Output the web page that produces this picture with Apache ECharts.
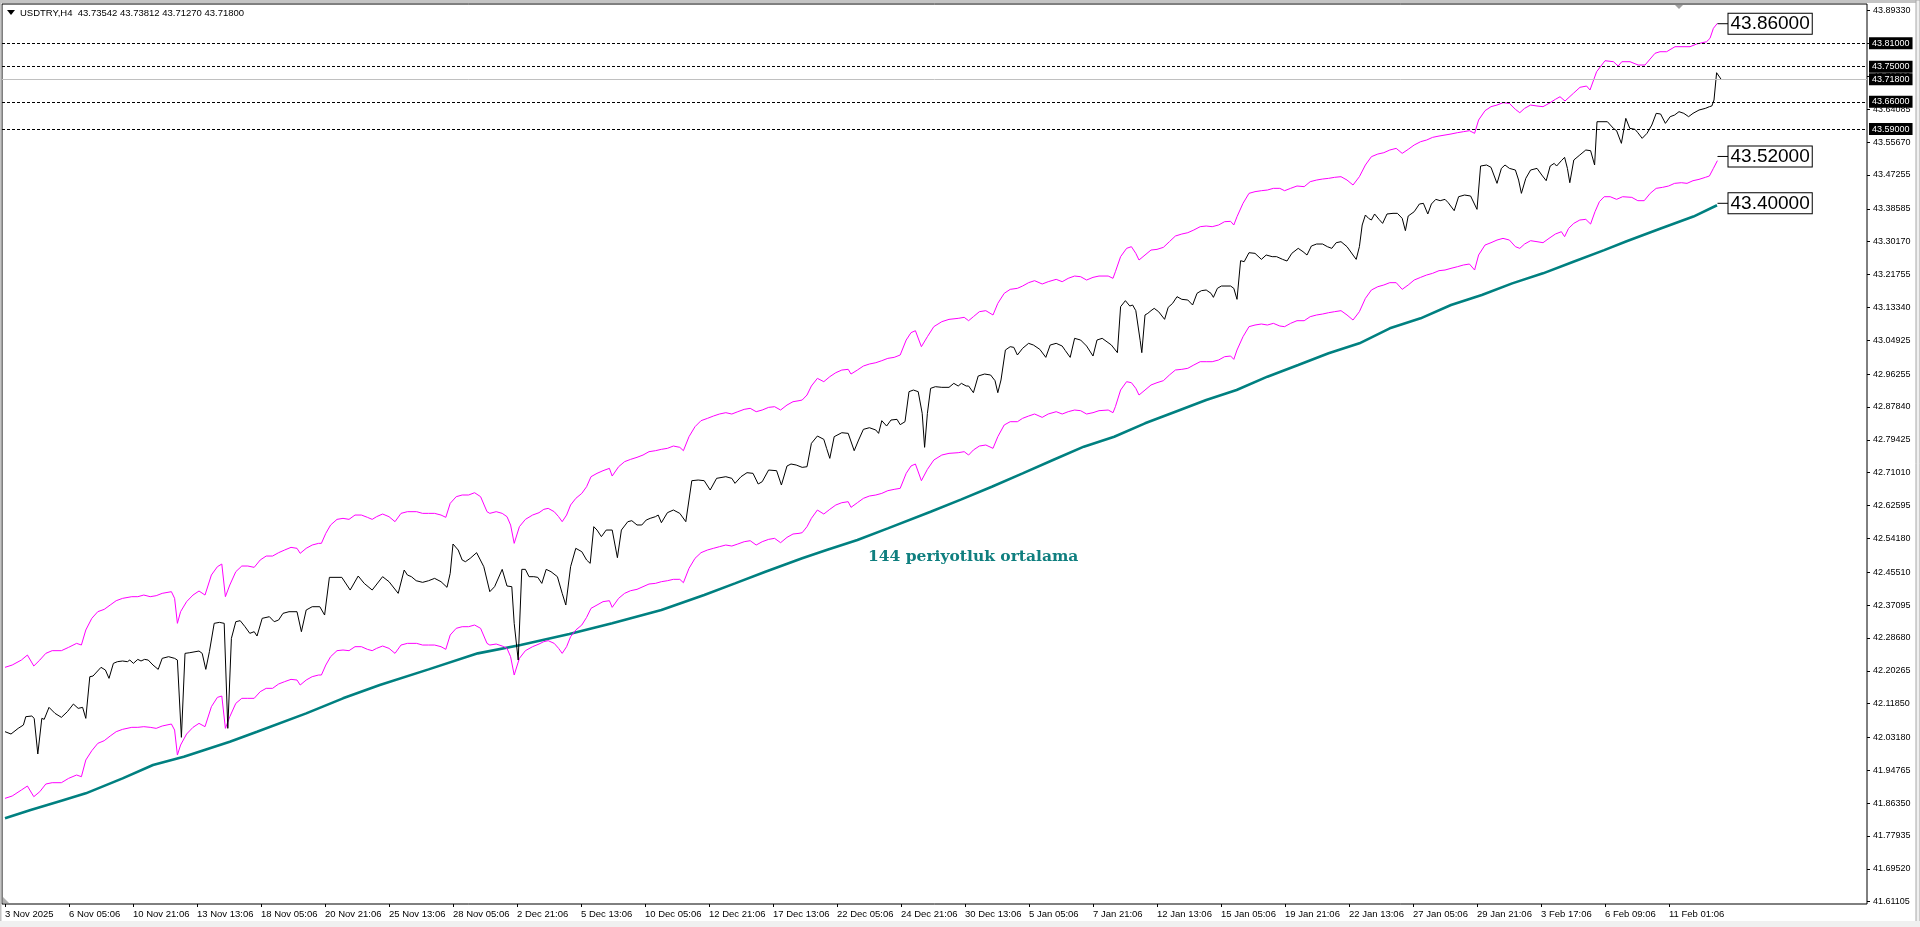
<!DOCTYPE html>
<html><head><meta charset="utf-8">
<script src="https://cdn.jsdelivr.net/npm/echarts@6/dist/echarts.min.js"></script>
<style>html,body{margin:0;padding:0;background:#fff;overflow:hidden}#c{width:1920px;height:927px}</style>
</head><body><div id="c"></div>
<script>
// ---------------- data ----------------
const symbolName = 'USDTRY,H4';
const ohlc = ['43.73542', '43.73812', '43.71270', '43.71800'];

const xTickBars = [0,16,32,48,64,80,96,112,128,144,160,176,192,208,224,240,256,272,288,304,320,336,352,368,384,400,416];
const xTickLabels = ['3 Nov 2025','6 Nov 05:06','10 Nov 21:06','13 Nov 13:06','18 Nov 05:06','20 Nov 21:06','25 Nov 13:06','28 Nov 05:06','2 Dec 21:06','5 Dec 13:06','10 Dec 05:06','12 Dec 21:06','17 Dec 13:06','22 Dec 05:06','24 Dec 21:06','30 Dec 13:06','5 Jan 05:06','7 Jan 21:06','12 Jan 13:06','15 Jan 05:06','19 Jan 21:06','22 Jan 13:06','27 Jan 05:06','29 Jan 21:06','3 Feb 17:06','6 Feb 09:06','11 Feb 01:06'];

const yTickValues = [43.8933,43.80915,43.725,43.64085,43.5567,43.47255,43.38585,43.3017,43.21755,43.1334,43.04925,42.96255,42.8784,42.79425,42.7101,42.62595,42.5418,42.4551,42.37095,42.2868,42.20265,42.1185,42.0318,41.94765,41.8635,41.77935,41.6952,41.61105];

// [bar index, price]
const closeLine = [[0,42.0466],[1.5,42.0406],[3.3,42.0551],[4.6,42.0636],[5.2,42.0850],[6.7,42.0867],[7.3,42.0807],[8.2,41.9894],[9.2,42.0807],[9.8,42.0782],[11,42.1089],[12.5,42.0935],[14.1,42.0833],[15.6,42.0978],[17.1,42.1174],[18.3,42.1063],[19.4,42.1089],[20.2,42.0807],[21.2,42.1874],[22,42.1891],[24,42.2114],[25.1,42.2045],[26,42.1832],[27.1,42.2216],[28.1,42.2259],[29.4,42.2276],[30.6,42.2259],[31.2,42.2301],[32.1,42.2216],[33.2,42.2318],[34,42.2276],[34.9,42.2318],[35.8,42.2301],[37,42.2173],[38.3,42.2062],[39.3,42.2344],[40.9,42.2387],[42.4,42.2344],[43.1,42.2301],[44.1,42.0321],[45,42.2472],[46.2,42.2489],[48.5,42.2532],[49.3,42.2472],[50.2,42.2062],[51.1,42.2515],[52.3,42.3241],[53.6,42.3266],[54.8,42.3241],[55.7,42.0551],[56.6,42.2856],[57.7,42.3283],[58.8,42.3309],[60,42.3155],[61.2,42.2985],[62.3,42.3027],[63,42.2916],[64.3,42.3369],[66.1,42.3411],[67.3,42.3283],[68.4,42.3326],[69.5,42.3497],[71,42.3539],[73,42.3539],[74.1,42.3027],[75.3,42.3582],[76.8,42.3667],[78.7,42.3667],[79.9,42.3454],[81.1,42.4419],[83,42.4419],[84.2,42.4419],[86.3,42.4094],[88.3,42.4453],[89.8,42.4265],[91.8,42.4094],[94.4,42.4436],[96,42.4308],[98.3,42.4009],[99.8,42.4607],[100.6,42.4479],[101.6,42.4436],[102.8,42.4333],[104.4,42.4291],[105.9,42.4333],[107.4,42.4393],[109,42.4308],[110.5,42.4163],[111.3,42.4521],[112,42.5273],[113.3,42.5119],[114.3,42.4863],[115.1,42.4820],[116.3,42.4906],[117.9,42.5051],[119.7,42.4692],[121.2,42.4052],[122.4,42.4180],[124.3,42.4624],[125.5,42.4197],[126.7,42.4180],[127.3,42.3241],[128.3,42.2301],[129.2,42.4624],[130.1,42.4624],[131,42.4436],[132.2,42.4436],[133.2,42.4419],[134.2,42.4265],[135.3,42.4624],[136.5,42.4564],[138.1,42.4436],[139.3,42.4009],[140.2,42.3710],[141.4,42.4692],[142.7,42.5162],[144.2,42.5076],[145.4,42.4863],[146.3,42.4777],[147.2,42.5717],[148,42.5631],[149.1,42.5461],[150.3,42.5631],[151.8,42.5631],[153.1,42.4923],[154.1,42.5631],[155.7,42.5845],[156.7,42.5870],[158,42.5760],[159.2,42.5760],[160.3,42.5887],[161.3,42.5930],[162.6,42.5973],[163.3,42.6015],[164.1,42.5819],[165.6,42.6075],[167.1,42.6144],[168.7,42.6058],[170.2,42.5845],[171.7,42.6895],[173.3,42.6912],[174.8,42.6895],[176.3,42.6656],[177.9,42.6955],[180.2,42.6997],[181.7,42.6955],[182.5,42.6827],[184,42.6997],[185.5,42.7100],[187,42.7083],[188.3,42.6810],[189.3,42.6869],[190.9,42.7168],[192.9,42.7151],[194.1,42.6784],[195.5,42.7271],[196.5,42.7322],[197.8,42.7296],[199.3,42.7236],[200.5,42.7253],[201.6,42.7851],[203.1,42.8039],[204.7,42.7954],[205.4,42.7723],[206.2,42.7467],[207.3,42.8022],[209.2,42.8124],[210.8,42.8107],[212.3,42.7663],[213.4,42.7936],[214.6,42.8210],[216.1,42.8252],[217.7,42.8193],[218.4,42.8107],[219.2,42.8432],[220.4,42.8295],[221.5,42.8449],[223,42.8466],[223.8,42.8330],[225,42.8406],[226,42.9175],[227.1,42.9217],[228.3,42.9175],[229.3,42.8620],[229.9,42.7749],[230.6,42.8620],[231.4,42.9260],[232.6,42.9303],[234.2,42.9286],[236,42.9286],[237.2,42.9388],[238.3,42.9320],[239.1,42.9388],[240.3,42.9320],[240.9,42.9320],[242.1,42.9149],[243.3,42.9576],[244.9,42.9627],[246.4,42.9602],[247.5,42.9457],[248.2,42.9149],[249,42.9474],[250.1,43.0242],[251.3,43.0327],[252.2,43.0310],[253.1,43.0114],[254.4,43.0285],[255.9,43.0413],[257.1,43.0370],[258.7,43.0259],[260.2,43.0054],[261.3,43.0370],[262.8,43.0413],[264.3,43.0344],[265.1,43.0225],[266.3,43.0054],[267.4,43.0541],[268.9,43.0498],[270.4,43.0344],[272,43.0088],[273,43.0498],[274.3,43.0541],[276.6,43.0370],[278.1,43.0174],[278.9,43.1352],[280.1,43.1506],[281.2,43.1369],[281.9,43.1395],[282.7,43.1250],[283.8,43.0481],[284.2,43.0174],[285,43.1139],[285.7,43.1181],[286.5,43.1250],[287.3,43.1309],[288.4,43.1224],[289.9,43.1028],[290.8,43.1335],[291.9,43.1437],[293,43.1608],[294.2,43.1540],[295.7,43.1523],[296.9,43.1395],[298,43.1694],[299.1,43.1762],[300.3,43.1779],[301.5,43.1694],[302.1,43.1591],[303.1,43.1822],[304.1,43.1881],[306.4,43.1881],[307.2,43.1822],[308,43.1540],[308.9,43.2530],[309.8,43.2505],[311,43.2735],[312.5,43.2718],[314.1,43.2564],[315.3,43.2675],[316.8,43.2633],[317.9,43.2633],[319.4,43.2564],[320.5,43.2522],[321.7,43.2718],[323.3,43.2846],[324.5,43.2761],[325.5,43.2675],[326.6,43.2906],[327.9,43.2957],[329.4,43.2957],[330.6,43.2889],[331.7,43.2846],[332.8,43.2991],[334,43.3017],[335.5,43.2889],[337,43.2675],[337.8,43.2564],[338.6,43.2889],[339.3,43.3444],[340.1,43.3700],[340.9,43.3614],[341.6,43.3572],[342.4,43.3726],[343.5,43.3589],[344.4,43.3486],[345.5,43.3726],[347,43.3743],[348.1,43.3743],[349.3,43.3614],[350.1,43.3299],[350.8,43.3674],[352.3,43.3785],[353.6,43.3982],[354.6,43.3999],[355.7,43.3726],[356.6,43.3982],[357.7,43.4101],[358.8,43.4067],[360,43.4101],[360.8,43.4016],[362.3,43.3811],[363.4,43.4169],[364.9,43.4212],[366.4,43.4187],[368,43.3845],[368.9,43.4955],[370.4,43.4981],[371.5,43.4921],[373,43.4511],[374.1,43.4895],[375,43.4981],[376.1,43.4895],[377.6,43.4852],[378.4,43.4596],[379.1,43.4255],[380.2,43.4639],[381.4,43.4852],[383,43.4895],[384.2,43.4724],[385.3,43.4579],[386.3,43.4955],[387.3,43.5023],[387.9,43.4955],[389.1,43.5092],[389.9,43.5177],[390.6,43.4895],[391.2,43.4528],[392.2,43.5109],[393.7,43.5237],[395.2,43.5365],[396.4,43.5348],[397.4,43.4981],[398,43.6090],[399,43.6090],[400.6,43.6090],[402.1,43.5920],[402.9,43.5860],[404.1,43.5536],[405.2,43.6176],[406.2,43.5920],[407.5,43.5894],[408.2,43.5809],[409.3,43.5664],[410.5,43.5792],[411.7,43.6005],[412.8,43.6304],[413.9,43.6287],[415.1,43.6048],[416.3,43.6219],[417.4,43.6261],[418.5,43.6347],[419.7,43.6304],[420.9,43.6219],[422,43.6304],[423.5,43.6389],[425.1,43.6432],[426.1,43.6475],[426.7,43.6492],[427.25,43.6646],[427.9,43.7345],[428.3,43.7330],[429,43.7180]];

const upperBand = [[0,42.2114],[1.8,42.2173],[4.1,42.2301],[5.6,42.2429],[7.2,42.2148],[8.7,42.2301],[10.2,42.2472],[11.8,42.2541],[14.1,42.2541],[15.9,42.2626],[17.9,42.2728],[19.1,42.2686],[20.2,42.3070],[21.7,42.3369],[23.2,42.3540],[24.8,42.3599],[26.3,42.3710],[27.8,42.3821],[29.4,42.3881],[31.7,42.3924],[33.2,42.3924],[34.7,42.3966],[36.3,42.3924],[37.8,42.3949],[39.3,42.4009],[41.6,42.4052],[42.4,42.3881],[43.1,42.3241],[43.9,42.3540],[45.4,42.3796],[47,42.3966],[48.5,42.4069],[50,42.3966],[51.6,42.4479],[53.1,42.4692],[54.2,42.4760],[55.1,42.3924],[56.2,42.4223],[57.7,42.4564],[59.2,42.4709],[60.7,42.4709],[62.3,42.4675],[63.8,42.4863],[65.3,42.4965],[66.9,42.4965],[68.4,42.5051],[69.9,42.5119],[71.5,42.5187],[73,42.5162],[73.8,42.5034],[75.3,42.5162],[76.8,42.5247],[78.4,42.5290],[79.1,42.5290],[80.2,42.5546],[81.4,42.5759],[83,42.5904],[84.5,42.5930],[86,42.5904],[87.5,42.6015],[89.1,42.6015],[90.6,42.5956],[91.8,42.5904],[92.9,42.5973],[94.4,42.6041],[96,42.5973],[97.5,42.5845],[99,42.6058],[100.6,42.6101],[102.9,42.6101],[104.4,42.6058],[105.9,42.6058],[107.4,42.6058],[109,42.6015],[110.2,42.5956],[111.3,42.6314],[112.8,42.6485],[114.3,42.6528],[115.9,42.6528],[117.4,42.6587],[118.9,42.6485],[120.5,42.6101],[121.2,42.6058],[122.8,42.6101],[124.3,42.6058],[125.5,42.5973],[126.4,42.5759],[127.3,42.5290],[128.6,42.5717],[130.1,42.5904],[131.9,42.6015],[133.5,42.6075],[134.7,42.6161],[135.8,42.6186],[137.3,42.6101],[138.4,42.5973],[139.3,42.5845],[140.4,42.6015],[141.4,42.6272],[142.7,42.6442],[144.2,42.6570],[145.4,42.6741],[146.5,42.6997],[148,42.7083],[149.5,42.7151],[151.1,42.7211],[151.8,42.7014],[153.4,42.7253],[154.9,42.7382],[156.4,42.7441],[158,42.7493],[159.5,42.7552],[161,42.7638],[162.6,42.7663],[164.1,42.7698],[165.6,42.7723],[167.1,42.7783],[168.7,42.7749],[169.6,42.7663],[171,42.8022],[172.5,42.8278],[174,42.8432],[175.6,42.8491],[177.1,42.8551],[178.6,42.8602],[180.2,42.8637],[181.7,42.8602],[183.2,42.8662],[184.8,42.8722],[186.3,42.8748],[187.8,42.8662],[189.3,42.8705],[190.9,42.8773],[192.4,42.8790],[193.9,42.8705],[195.5,42.8833],[197,42.8918],[198.5,42.8944],[199.3,42.8961],[200.5,42.9089],[201.6,42.9320],[203.1,42.9516],[204.7,42.9431],[206.2,42.9559],[207.7,42.9661],[209.2,42.9729],[210.8,42.9747],[211.5,42.9627],[213.1,42.9729],[214.6,42.9832],[216.1,42.9883],[217.7,42.9917],[219.2,42.9969],[220.7,43.0028],[222.3,43.0054],[223.8,43.0114],[225.3,43.0498],[226.5,43.0686],[227.6,43.0737],[229.1,43.0327],[230.6,43.0583],[232.2,43.0840],[234.2,43.0968],[236,43.1027],[238.3,43.1053],[239.8,43.1079],[240.9,43.0993],[242.1,43.1096],[243.6,43.1224],[245.2,43.1250],[247,43.1139],[248.2,43.1437],[249.8,43.1693],[251.3,43.1796],[253.1,43.1822],[254.4,43.1881],[255.9,43.1967],[257.4,43.2018],[259.3,43.1933],[260.8,43.1992],[262.8,43.2052],[264.3,43.1992],[265.8,43.2078],[267.4,43.2137],[268.9,43.2120],[270.4,43.2035],[272,43.2103],[273.5,43.2137],[275.8,43.2137],[277,43.2078],[277.6,43.2248],[278.9,43.2633],[280.4,43.2846],[281.6,43.2889],[282.7,43.2718],[283.5,43.2547],[285,43.2675],[286.5,43.2803],[288,43.2820],[289.6,43.2872],[291.1,43.3017],[292.6,43.3162],[294.2,43.3213],[295.7,43.3247],[297.2,43.3316],[298.8,43.3401],[300.3,43.3418],[301.8,43.3401],[303.4,43.3444],[304.9,43.3529],[306.4,43.3538],[307.2,43.3444],[308,43.3657],[309.5,43.3999],[311,43.4255],[312.5,43.4298],[314.1,43.4323],[315.6,43.4340],[317.1,43.4383],[318.7,43.4383],[319.9,43.4323],[321.4,43.4383],[323,43.4443],[324.8,43.4426],[326.3,43.4554],[327.9,43.4596],[329.4,43.4622],[330.9,43.4639],[332.4,43.4665],[334,43.4682],[335.5,43.4596],[337,43.4468],[338.6,43.4682],[340.1,43.4981],[341.6,43.5194],[343.2,43.5262],[344.7,43.5296],[346.2,43.5365],[347.8,43.5407],[349.3,43.5279],[350.8,43.5382],[352.3,43.5493],[353.9,43.5578],[355.4,43.5621],[356.9,43.5689],[358.5,43.5723],[360,43.5749],[361.5,43.5775],[363.1,43.5809],[364.6,43.5834],[366.1,43.5860],[367.4,43.5792],[368.4,43.6133],[370,43.6372],[371.5,43.6475],[373,43.6517],[374.5,43.6577],[376.1,43.6560],[377.6,43.6406],[378.7,43.6321],[379.9,43.6432],[381.4,43.6517],[383,43.6492],[384.5,43.6475],[386,43.6560],[387.6,43.6663],[388.75,43.6730],[390,43.6620],[392.1,43.6817],[393.75,43.6971],[395.4,43.7004],[396.25,43.6902],[397.9,43.7370],[400,43.7652],[402.1,43.7627],[403.3,43.7516],[404.2,43.7627],[406.25,43.7627],[408.3,43.7542],[410,43.7542],[412.5,43.7842],[413.75,43.7883],[415.4,43.7883],[417.5,43.8011],[418.75,43.8011],[421.25,43.8011],[422.9,43.8080],[425.4,43.8139],[426.25,43.8226],[427.1,43.8482],[428.1,43.8610]];

const lowerBand = [[0,41.8758],[1.8,41.8818],[4.1,41.8972],[5.6,41.9074],[7.2,41.8801],[8.7,41.8929],[10.2,41.9125],[11.8,41.9159],[14.1,41.9159],[15.9,41.9270],[17.9,41.9356],[19.1,41.9313],[20.2,41.9740],[21.7,41.9979],[23.2,42.0167],[24.8,42.0235],[26.3,42.0355],[27.8,42.0466],[29.4,42.0526],[31.7,42.0577],[33.2,42.0577],[34.7,42.0594],[36.3,42.0577],[37.8,42.0551],[39.3,42.0611],[41.6,42.0662],[42.4,42.0508],[43.1,41.9868],[43.9,42.0124],[45.4,42.0406],[47,42.0577],[48.5,42.0679],[50,42.0594],[51.6,42.1106],[53.1,42.1345],[54.2,42.1379],[55.1,42.0551],[56.2,42.0850],[57.7,42.1191],[59.2,42.1320],[60.7,42.1320],[62.3,42.1320],[63.8,42.1490],[65.3,42.1576],[66.9,42.1576],[68.4,42.1687],[69.9,42.1747],[71.5,42.1806],[73,42.1789],[73.8,42.1661],[75.3,42.1789],[76.8,42.1875],[78.4,42.1917],[79.1,42.1917],[80.2,42.2173],[81.4,42.2387],[83,42.2541],[84.5,42.2558],[86,42.2541],[87.5,42.2643],[89.1,42.2643],[90.6,42.2575],[91.8,42.2541],[92.9,42.2600],[94.4,42.2660],[96,42.2600],[97.5,42.2472],[99,42.2685],[100.6,42.2728],[102.9,42.2728],[104.4,42.2685],[105.9,42.2685],[107.4,42.2685],[109,42.2643],[110.2,42.2575],[111.3,42.2942],[112.8,42.3113],[114.3,42.3155],[115.9,42.3155],[117.4,42.3198],[118.9,42.3113],[120.5,42.2728],[121.2,42.2685],[122.8,42.2711],[124.3,42.2660],[125.5,42.2600],[126.4,42.2387],[127.3,42.1917],[128.6,42.2344],[130.1,42.2541],[131.9,42.2643],[133.5,42.2711],[134.7,42.2771],[135.8,42.2797],[137.3,42.2728],[138.4,42.2600],[139.3,42.2472],[140.4,42.2643],[141.4,42.2899],[142.7,42.3070],[144.2,42.3198],[145.4,42.3394],[146.5,42.3625],[148,42.3710],[149.5,42.3796],[151.1,42.3821],[151.8,42.3651],[153.4,42.3881],[154.9,42.4009],[156.4,42.4077],[158,42.4112],[159.5,42.4180],[161,42.4248],[162.6,42.4265],[164.1,42.4308],[165.6,42.4333],[167.1,42.4368],[168.7,42.4368],[169.6,42.4282],[171,42.4649],[172.5,42.4906],[174,42.5051],[175.6,42.5119],[177.1,42.5162],[178.6,42.5204],[180.2,42.5247],[181.7,42.5221],[183.2,42.5273],[184.8,42.5332],[186.3,42.5358],[187.8,42.5247],[189.3,42.5332],[190.9,42.5392],[192.4,42.5418],[193.9,42.5307],[195.5,42.5443],[197,42.5529],[198.5,42.5546],[199.3,42.5563],[200.5,42.5717],[201.6,42.5930],[203.1,42.6143],[204.7,42.6041],[206.2,42.6161],[207.7,42.6272],[209.2,42.6331],[210.8,42.6357],[211.5,42.6212],[213.1,42.6331],[214.6,42.6442],[216.1,42.6502],[217.7,42.6528],[219.2,42.6570],[220.7,42.6639],[222.3,42.6673],[223.8,42.6699],[225.3,42.7083],[226.5,42.7271],[227.6,42.7322],[229.1,42.6895],[230.6,42.7185],[232.2,42.7424],[234.2,42.7552],[236,42.7595],[238.3,42.7612],[239.8,42.7638],[240.9,42.7552],[242.1,42.7681],[243.6,42.7783],[245.2,42.7809],[247,42.7723],[248.2,42.8022],[249.8,42.8321],[251.3,42.8406],[253.1,42.8406],[254.4,42.8492],[255.9,42.8551],[257.4,42.8603],[259.3,42.8517],[260.8,42.8603],[262.8,42.8662],[264.3,42.8603],[265.8,42.8662],[267.4,42.8705],[268.9,42.8688],[270.4,42.8603],[272,42.8637],[273.5,42.8688],[275.8,42.8705],[277,42.8637],[277.6,42.8791],[278.9,42.9217],[280.4,42.9431],[281.6,42.9405],[282.7,42.9260],[283.5,42.9089],[285,42.9217],[286.5,42.9346],[288,42.9405],[289.6,42.9457],[291.1,42.9602],[292.6,42.9730],[294.2,42.9747],[295.7,42.9773],[297.2,42.9858],[298.8,42.9943],[300.3,42.9943],[301.8,42.9943],[303.4,42.9986],[304.9,43.0071],[306.4,43.0088],[307.2,43.0003],[308,43.0242],[309.5,43.0583],[311,43.0840],[312.5,43.0882],[314.1,43.0908],[315.6,43.0882],[317.1,43.0925],[318.7,43.0857],[319.9,43.0840],[321.4,43.0925],[323,43.0993],[324.8,43.0993],[326.3,43.1096],[327.9,43.1139],[329.4,43.1164],[330.9,43.1198],[332.4,43.1224],[334,43.1250],[335.5,43.1139],[337,43.1010],[338.6,43.1224],[340.1,43.1565],[341.6,43.1779],[343.2,43.1864],[344.7,43.1907],[346.2,43.1967],[347.8,43.1967],[349.3,43.1796],[350.8,43.1907],[352.3,43.2035],[353.9,43.2103],[355.4,43.2163],[356.9,43.2206],[358.5,43.2274],[360,43.2291],[361.5,43.2334],[363.1,43.2376],[364.6,43.2419],[366.1,43.2445],[367.4,43.2291],[368.4,43.2675],[370,43.2931],[371.5,43.2991],[373,43.3059],[374.5,43.3102],[376.1,43.3059],[377.6,43.2889],[378.7,43.2846],[379.9,43.2957],[381.4,43.3042],[383,43.3017],[384.5,43.2991],[386,43.3102],[387.6,43.3213],[389.1,43.3273],[389.9,43.3145],[390.9,43.3358],[392.2,43.3486],[393.7,43.3572],[395.2,43.3589],[396.4,43.3469],[397.5,43.3785],[398.6,43.4041],[399.8,43.4169],[401.3,43.4169],[402.9,43.4101],[404.4,43.4169],[406.7,43.4152],[408.2,43.4067],[409.8,43.4067],[411.3,43.4255],[412.8,43.4383],[414.4,43.4409],[415.9,43.4443],[417.4,43.4511],[419.1,43.4528],[420.5,43.4511],[422,43.4579],[423.5,43.4613],[425.1,43.4665],[426.1,43.4699],[427.1,43.4895],[428.1,43.5092]];

const ma144 = [[0,41.8246],[6.4,41.8459],[14.1,41.8698],[20.2,41.8886],[29.4,41.9270],[37,41.9612],[44.7,41.9825],[56.2,42.0210],[63,42.0466],[75.3,42.0935],[84.5,42.1320],[93.7,42.1661],[105.9,42.2062],[118.2,42.2472],[128.9,42.2686],[141.1,42.2967],[151.8,42.3241],[164.1,42.3582],[174.8,42.3966],[182.5,42.4265],[190.1,42.4564],[199.3,42.4906],[205.4,42.5119],[213.1,42.5375],[220.7,42.5674],[231.4,42.6101],[239.1,42.6417],[246.7,42.6741],[254.4,42.7083],[262,42.7424],[269.7,42.7766],[277.3,42.8022],[285,42.8364],[292.6,42.8662],[300.3,42.8961],[307.9,42.9217],[315.6,42.9559],[323.3,42.9858],[330.9,43.0157],[338.6,43.0413],[346.2,43.0797],[353.9,43.1053],[361.5,43.1394],[369.2,43.1651],[376.8,43.1949],[384.5,43.2206],[392.1,43.2505],[399.8,43.2800],[405.4,43.3030],[413.75,43.3350],[422.1,43.3660],[428,43.3950]];

const levelLines = [43.81, 43.75, 43.66, 43.59];
const currentPrice = 43.718;
const tagBar = 428;
const tagPrices = { upper: 43.86, lower: 43.52, ma: 43.40 };
const maNote = '144 periyotluk ortalama';

// ---------------- chart ----------------
const FONT = '"Liberation Sans", Arial, sans-serif';
const chart = echarts.init(document.getElementById('c'), null, { renderer: 'canvas' });

function priceTag(price) {
  return {
    silent: true,
    animation: false,
    symbol: 'circle',
    symbolSize: 1,
    itemStyle: { color: 'rgba(0,0,0,0)' },
    data: [{ coord: [tagBar, price], name: price.toFixed(5) }],
    label: {
      show: true,
      position: 'right',
      distance: 0,
      formatter: p => '{ln|}{bx|' + p.name + '}',
      rich: {
        ln: { width: 11, height: 1, backgroundColor: '#000' },
        bx: { fontSize: 19, fontFamily: FONT, color: '#000', backgroundColor: '#fff',
              borderColor: '#000', borderWidth: 1, padding: [1, 2, 0, 2], lineHeight: 21 }
      }
    }
  };
}

const option = {
  animation: false,
  backgroundColor: '#ffffff',
  grid: { left: 2, top: 4, right: 53, bottom: 23, show: true, borderColor: '#000', borderWidth: 1,
          backgroundColor: '#fff', containLabel: false, outerBoundsMode: 'none' },
  xAxis: {
    type: 'value', min: -0.75, max: 465.5,
    axisLine: { show: false, onZero: false }, splitLine: { show: false },
    axisTick: { show: true, customValues: xTickBars, length: 3, lineStyle: { color: '#000' } },
    axisLabel: { customValues: xTickBars, formatter: v => xTickLabels[xTickBars.indexOf(v)] || '',
                 align: 'left', margin: 5, fontSize: 9.5, fontFamily: FONT, color: '#000' }
  },
  yAxis: {
    type: 'value', position: 'right', min: 41.6052, max: 43.9105, scale: true,
    axisLine: { show: false, onZero: false }, splitLine: { show: false },
    axisTick: { show: true, customValues: yTickValues, length: 3, lineStyle: { color: '#000' } },
    axisLabel: { customValues: yTickValues, formatter: v => v.toFixed(5), margin: 6,
                 fontSize: 9, fontFamily: FONT, color: '#000' }
  },
  series: [
    { name: 'MA144', type: 'line', data: ma144, showSymbol: false, silent: true, z: 2,
      lineStyle: { color: '#008080', width: 2.6 }, itemStyle: { color: '#008080' },
      markPoint: priceTag(tagPrices.ma) },
    { name: 'Lower', type: 'line', data: lowerBand, showSymbol: false, silent: true, z: 3,
      lineStyle: { color: '#ff00ff', width: 1 }, itemStyle: { color: '#ff00ff' },
      markPoint: priceTag(tagPrices.lower) },
    { name: 'Upper', type: 'line', data: upperBand, showSymbol: false, silent: true, z: 3,
      lineStyle: { color: '#ff00ff', width: 1 }, itemStyle: { color: '#ff00ff' },
      markPoint: priceTag(tagPrices.upper) },
    { name: 'Close', type: 'line', data: closeLine, showSymbol: false, silent: true, z: 4,
      lineStyle: { color: '#000', width: 1 }, itemStyle: { color: '#000' },
      markLine: {
        silent: true, animation: false, symbol: ['none', 'none'], precision: 5,
        label: { show: true, position: 'end', distance: 2, formatter: p => p.name,
                 color: '#fff', backgroundColor: '#000', padding: [2, 3, 1, 3], fontSize: 9, fontFamily: FONT },
        data: levelLines.map(v => ({ yAxis: v, name: v.toFixed(5), lineStyle: { color: '#000', type: [3, 2], width: 1 } }))
          .concat([{ yAxis: currentPrice, name: currentPrice.toFixed(5), lineStyle: { color: '#c0c0c0', type: 'solid', width: 1 } }])
      } }
  ],
  graphic: { elements: [
    { type: 'rect', shape: { x: 0, y: 0, width: 1920, height: 3 }, style: { fill: '#c4c4c4' }, silent: true, z: 100 },
    { type: 'rect', shape: { x: 0, y: 0, width: 1.5, height: 927 }, style: { fill: '#c4c4c4' }, silent: true, z: 100 },
    { type: 'rect', shape: { x: 1916, y: 0, width: 4, height: 927 }, style: { fill: '#f0f0f0', stroke: '#a8a8a8', lineWidth: 1 }, silent: true, z: 100 },
    { type: 'rect', shape: { x: 0, y: 921, width: 1920, height: 6 }, style: { fill: '#f0f0f0' }, silent: true, z: 100 },
    { type: 'polygon', shape: { points: [[7, 10], [15, 10], [11, 15]] }, style: { fill: '#000' }, silent: true, z: 100 },
    { type: 'text', x: 20, y: 13, style: { text: symbolName + '  ' + ohlc.join(' '), font: '9.5px ' + FONT, fill: '#000', verticalAlign: 'middle' }, silent: true, z: 100 },
    { type: 'polygon', shape: { points: [[1675, 5], [1683, 5], [1679, 9]] }, style: { fill: '#a0a0a0' }, silent: true, z: 100 },
    { type: 'polygon', shape: { points: [[3, 897], [3, 903], [9, 903]] }, style: { fill: '#b0b0b0' }, silent: true, z: 100 },
    { type: 'text', x: 868, y: 557, style: { text: maNote, font: 'bold 15.5px "DejaVu Serif", serif', fill: '#0f7f7f', verticalAlign: 'middle' }, silent: true, z: 100 }
  ] }
};
chart.setOption(option);
</script>
</body></html>
